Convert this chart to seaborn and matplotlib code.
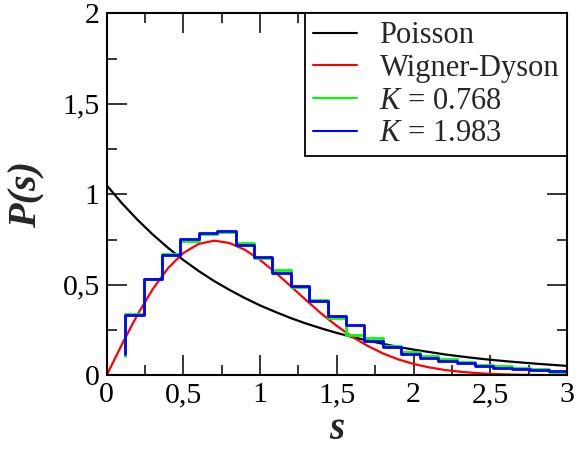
import matplotlib
matplotlib.use("Agg")
import matplotlib.pyplot as plt
import seaborn as sns
import pandas as pd
from matplotlib.ticker import MultipleLocator

# ---- data ----
s_curve = [0.0, 0.1, 0.2, 0.3, 0.4, 0.5, 0.6, 0.7, 0.8, 0.9, 1.0,
           1.1, 1.2, 1.3, 1.4, 1.5, 1.6, 1.7, 1.8, 1.9, 2.0,
           2.1, 2.2, 2.3, 2.4, 2.5, 2.6, 2.7, 2.8, 2.9, 3.0]
poisson = [1.050, 0.950, 0.860, 0.778, 0.704, 0.637, 0.576, 0.521, 0.472, 0.427, 0.386,
           0.350, 0.316, 0.286, 0.259, 0.234, 0.212, 0.192, 0.174, 0.157, 0.142,
           0.129, 0.116, 0.105, 0.095, 0.086, 0.078, 0.071, 0.064, 0.058, 0.052]
wigner = [0.000, 0.172, 0.334, 0.476, 0.592, 0.676, 0.726, 0.744, 0.731, 0.694, 0.637,
          0.568, 0.492, 0.415, 0.340, 0.273, 0.213, 0.163, 0.121, 0.088, 0.063,
          0.044, 0.030, 0.020, 0.013, 0.008, 0.005, 0.003, 0.002, 0.001, 0.001]

s_hist = [0.12, 0.24, 0.36, 0.48, 0.60, 0.72, 0.84, 0.96, 1.08, 1.20, 1.32, 1.44, 1.56,
          1.68, 1.80, 1.92, 2.04, 2.16, 2.28, 2.40, 2.52, 2.64, 2.76, 2.88, 3.00]
hist_k0768 = [0.105, 0.339, 0.530, 0.672, 0.742, 0.778, 0.790, 0.729, 0.646, 0.582, 0.490,
              0.416, 0.315, 0.225, 0.206, 0.162, 0.128, 0.105, 0.089, 0.072, 0.057,
              0.050, 0.039, 0.035, 0.018]
hist_k1983 = [0.120, 0.333, 0.534, 0.665, 0.751, 0.784, 0.797, 0.720, 0.655, 0.563, 0.495,
              0.410, 0.330, 0.280, 0.188, 0.154, 0.118, 0.097, 0.079, 0.066, 0.052,
              0.042, 0.035, 0.027, 0.025]

labels = ["Poisson", "Wigner-Dyson", "$K$ = 0.768", "$K$ = 1.983"]
x_ticks = [0, 0.5, 1, 1.5, 2, 2.5, 3]
x_ticklabels = ["0", "0,5", "1", "1,5", "2", "2,5", "3"]
y_ticks = [0, 0.5, 1, 1.5, 2]
y_ticklabels = ["0", "0,5", "1", "1,5", "2"]

# ---- style ----
sns.set_theme(style="white")
plt.rcParams["font.family"] = ["Liberation Serif", "DejaVu Serif"]
plt.rcParams["mathtext.fontset"] = "custom"
plt.rcParams["mathtext.rm"] = "Liberation Serif"
plt.rcParams["mathtext.it"] = "Liberation Serif:italic"

fig = plt.figure(figsize=(5.76, 4.49), dpi=100)
ax = fig.add_axes([0.1852, 0.1641, 0.7992, 0.8063])

df_c = pd.DataFrame({"s": s_curve, "poisson": poisson, "wigner": wigner})
df_h = pd.DataFrame({"s": s_hist, "k1": hist_k0768, "k2": hist_k1983})

sns.lineplot(data=df_c, x="s", y="poisson", ax=ax, color="black", lw=1.6,
             label=labels[0], estimator=None)
sns.lineplot(data=df_c, x="s", y="wigner", ax=ax, color="#ff0000", lw=1.6,
             label=labels[1], estimator=None)
sns.lineplot(data=df_h, x="s", y="k1", ax=ax, color="#00ff00", lw=2.0,
             label=labels[2], estimator=None, drawstyle="steps-pre")
sns.lineplot(data=df_h, x="s", y="k2", ax=ax, color="#0000ff", lw=2.0,
             label=labels[3], estimator=None, drawstyle="steps-pre")

ax.set_xlim(0, 3)
ax.set_ylim(0, 2)
ax.set_xticks(x_ticks)
ax.set_xticklabels(x_ticklabels)
ax.set_yticks(y_ticks)
ax.set_yticklabels(y_ticklabels)
ax.xaxis.set_minor_locator(MultipleLocator(0.25))
ax.yaxis.set_minor_locator(MultipleLocator(0.25))

ax.tick_params(which="both", direction="in", top=True, right=True,
               bottom=True, left=True, colors="black", width=1.1)
ax.tick_params(which="major", length=14.4, labelsize=21.5, pad=5)
ax.tick_params(which="minor", length=7.2)
for sp in ax.spines.values():
    sp.set_color("black")
    sp.set_linewidth(1.5)

ax.set_xlabel("s", fontsize=28, fontweight="bold", style="italic", labelpad=2)
ax.set_ylabel("P(s)", fontsize=29, fontweight="bold", style="italic", labelpad=12)

leg = ax.legend(loc="upper right", borderaxespad=0, fontsize=22, frameon=True,
                fancybox=False, framealpha=1, edgecolor="black",
                handlelength=1.45, handletextpad=0.72, labelspacing=0.12,
                borderpad=0.26)
leg.get_frame().set_linewidth(1.3)
for line in leg.get_lines():
    line.set_linewidth(1.5)

fig.savefig("out.png", dpi=100)
